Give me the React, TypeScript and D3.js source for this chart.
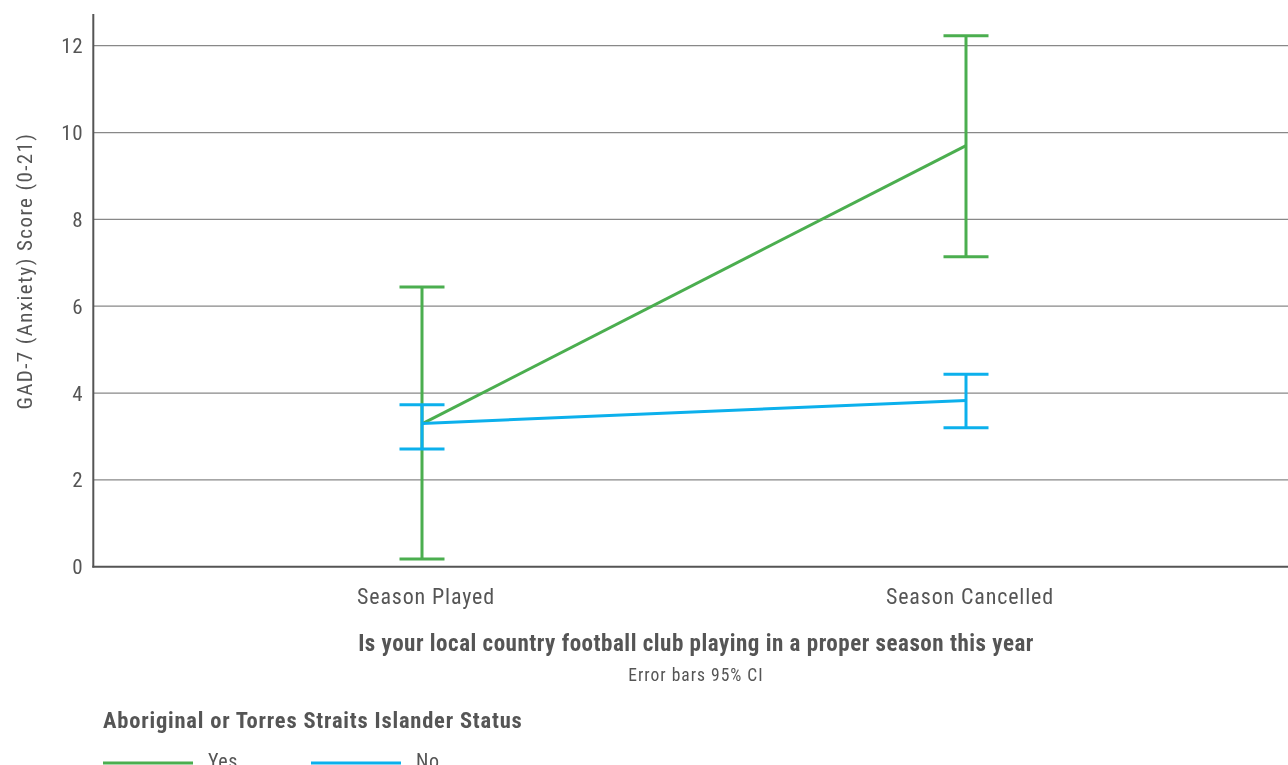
import React from "react";
import * as d3 from "d3";

const categories = ["Season Played", "Season Cancelled"];
const yesMean = [3.29, 9.7];
const yesLow = [0.18, 7.14];
const yesHigh = [6.44, 12.23];
const noMean = [3.3, 3.83];
const noLow = [2.71, 3.2];
const noHigh = [3.73, 4.43];
const yTicks = [0, 2, 4, 6, 8, 10, 12];
const legendItems = ["Yes", "No"];

const W = 1288;
const H = 765;
const FONT = "'Liberation Sans Narrow', 'Arial Narrow', 'Roboto Condensed', sans-serif";
const GREEN = "#4bae4f";
const BLUE = "#0cb0ec";
const TEXT = "#555";

export default function App() {
  const x = d3.scalePoint<string>().domain(categories).range([422, 966]);
  const y = d3.scaleLinear().domain([0, 12.73]).range([566.7, 14]);
  const series = [
    { name: legendItems[0], color: GREEN, mean: yesMean, lo: yesLow, hi: yesHigh },
    { name: legendItems[1], color: BLUE, mean: noMean, lo: noLow, hi: noHigh },
  ];
  const line = d3
    .line<number>()
    .x((_, i) => x(categories[i]) as number)
    .y((d) => y(d));
  const cap = 22.5;
  return (
    <div style={{ position: "fixed", left: 0, top: 0 }}>
      <svg width={W} height={H} style={{ display: "block", fontFamily: FONT }}>
        {yTicks.slice(1).map((t) => (
          <line key={t} x1={94} x2={W} y1={y(t)} y2={y(t)} stroke="#888" strokeWidth={1.3} />
        ))}
        {yTicks.map((t) => (
          <text key={t} x={83} y={y(t)} dy="0.36em" textAnchor="end" fontSize={21} fill={TEXT} style={{ letterSpacing: 0.5 }}>
            {t}
          </text>
        ))}
        <line x1={93.3} x2={93.3} y1={14} y2={567.5} stroke="#555" strokeWidth={2} />
        <line x1={92.3} x2={W} y1={566.7} y2={566.7} stroke="#555" strokeWidth={2} />
        <text
          transform={`translate(32,271) rotate(-90)`}
          textAnchor="middle"
          fontSize={21}
          fill={TEXT}
          style={{ letterSpacing: 1.4 }}
        >
          GAD-7 (Anxiety) Score (0-21)
        </text>
        {series.map((s) => (
          <g key={s.name}>
            <path d={line(s.mean) || ""} fill="none" stroke={s.color} strokeWidth={3} />
            {categories.map((c, i) => {
              const cx = x(c) as number;
              return (
                <g key={c}>
                  <line x1={cx} x2={cx} y1={y(s.lo[i])} y2={y(s.hi[i])} stroke={s.color} strokeWidth={3} />
                  <line x1={cx - cap} x2={cx + cap} y1={y(s.lo[i])} y2={y(s.lo[i])} stroke={s.color} strokeWidth={3} />
                  <line x1={cx - cap} x2={cx + cap} y1={y(s.hi[i])} y2={y(s.hi[i])} stroke={s.color} strokeWidth={3} />
                </g>
              );
            })}
          </g>
        ))}
        {categories.map((c) => (
          <text key={c} x={(x(c) as number) + 4} y={604} textAnchor="middle" fontSize={22} fill={TEXT} style={{ letterSpacing: 0.85 }}>
            {c}
          </text>
        ))}
        <text x={696} y={651} textAnchor="middle" fontSize={23} fontWeight="bold" fill={TEXT} style={{ letterSpacing: 0.5 }}>
          Is your local country football club playing in a proper season this year
        </text>
        <text x={696} y={681} textAnchor="middle" fontSize={17.5} fill={TEXT} style={{ letterSpacing: 1 }}>
          Error bars 95% CI
        </text>
        <text x={103} y={728} fontSize={22.5} fontWeight="bold" fill={TEXT} style={{ letterSpacing: 0.8 }}>
          Aboriginal or Torres Straits Islander Status
        </text>
        {series.map((s, i) => (
          <g key={s.name} transform={`translate(${103 + i * 208},0)`}>
            <line x1={0} x2={90} y1={763} y2={763} stroke={s.color} strokeWidth={3} />
            <text x={105} y={768} fontSize={20} fill={TEXT} style={{ letterSpacing: 0.5 }}>
              {s.name}
            </text>
          </g>
        ))}
      </svg>
    </div>
  );
}
